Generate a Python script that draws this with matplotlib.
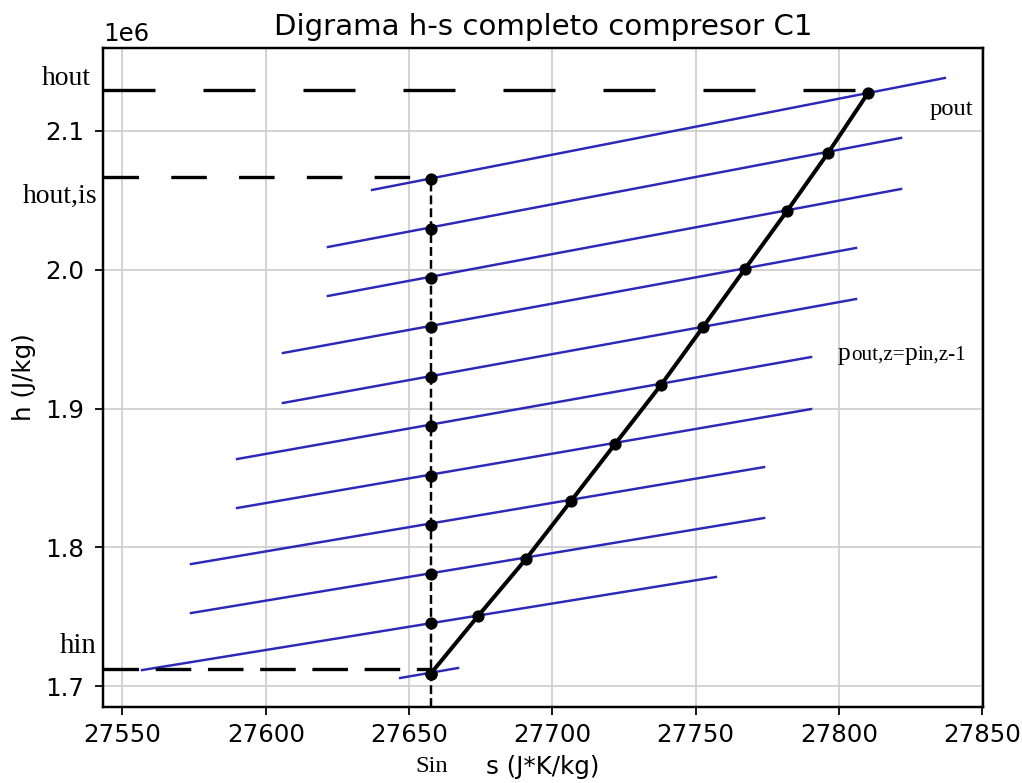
import matplotlib
matplotlib.use("Agg")
import matplotlib.pyplot as plt
import numpy as np

plt.rcParams['lines.scale_dashes'] = False
plt.rcParams['font.size'] = 11
plt.rcParams['grid.color'] = '#cfcfcf'
plt.rcParams['axes.linewidth'] = 1.1
plt.rcParams['ytick.major.pad'] = 5

# inlet entropy and isentropic stage end points (h in J/kg)
s_in = 27657.6
h_is = np.array([1.7090, 1.7454, 1.7807, 1.8160, 1.8514, 1.8874,
                 1.9227, 1.9587, 1.9941, 2.0294, 2.0654]) * 1e6

# real compression path, stage by stage
s_real = [27657.6, 27674.1, 27690.8, 27706.5, 27721.9, 27737.9,
          27752.6, 27767.2, 27781.9, 27796.2, 27810.2]
h_real = np.array([1.7090, 1.7505, 1.7915, 1.8333, 1.8744, 1.9169,
                   1.9587, 2.0005, 2.0423, 2.0841, 2.1274]) * 1e6

# isobars (start/end of each line), from inlet pressure up to p_out
iso_s0 = [27646.9, 27556.8, 27573.9, 27573.9, 27590.0, 27590.0,
          27606.0, 27606.0, 27621.7, 27621.7, 27637.1]
iso_s1 = [27667.1, 27757.1, 27773.9, 27773.9, 27790.3, 27790.3,
          27806.0, 27806.0, 27821.7, 27821.7, 27837.0]
iso_h0 = np.array([1.7058, 1.7115, 1.7526, 1.7879, 1.8283, 1.8636,
                   1.9040, 1.9400, 1.9811, 2.0164, 2.0575]) * 1e6
iso_h1 = np.array([1.7130, 1.7786, 1.8211, 1.8578, 1.8996, 1.9371,
                   1.9789, 2.0157, 2.0582, 2.0950, 2.1382]) * 1e6

# guide levels marked by hand on the diagram
h_out_guide = 2.1296e6
h_outis_guide = 2.0668e6
h_in_guide = 1.7122e6

xlim = (27543.2, 27850.3)
ylim = (1.6849e6, 2.1598e6)

W, H = 1022, 783
fig = plt.figure(figsize=(W / 160, H / 160), dpi=160)
ax = fig.add_axes([103 / W, 1 - 707 / H, (983 - 103) / W, (707 - 48) / H])

for i in range(len(iso_s0)):
    ax.plot([iso_s0[i], iso_s1[i]], [iso_h0[i], iso_h1[i]],
            color='#2c28b8', lw=1.1, zorder=2)

ax.plot(s_real, h_real, 'k-', lw=1.8, marker='o', ms=4.5, zorder=4)
ax.plot([s_in] * len(h_is), h_is, 'ko', ms=4.5, zorder=4)
ax.plot([s_in, s_in], [ylim[0], h_is[-1]], color='k', lw=1.1,
        dashes=(4.0, 1.8), zorder=3)

# horizontal guides
ax.plot([xlim[0], s_real[-1]], [h_out_guide, h_out_guide], color='k',
        lw=1.5, dashes=(23.4, 21.6), zorder=3)
ax.plot([xlim[0], s_in], [h_outis_guide, h_outis_guide], color='k',
        lw=1.5, dashes=(16, 14.5), zorder=3)
ax.plot([xlim[0], s_in], [h_in_guide, h_in_guide], color='k',
        lw=1.5, dashes=(16, 7.5), zorder=3)

ax.set_xlim(xlim)
ax.set_ylim(ylim)
ax.set_xticks([27550, 27600, 27650, 27700, 27750, 27800, 27850])
ax.grid(True)
ax.set_title('Digrama h-s completo compresor C1')
ax.set_xlabel('s (J*K/kg)')
ax.set_ylabel('h (J/kg)')

serif = ['Liberation Serif', 'DejaVu Serif']


def label(txt, x, y, size, ha='left'):
    return fig.text(x / W, 1 - y / H, txt, family=serif, fontsize=size,
                    ha=ha, va='baseline')


label('hout', 91, 85, 12.5, ha='right')
label('hout,is', 97, 203, 12.5, ha='right')
label('hin', 96, 653, 13, ha='right')
label('Sin', 415, 772, 11)
label('pout', 930, 115, 11)

# mixed-size label for the intermediate pressures
renderer = fig.canvas.get_renderer()
x = 838
for piece, size in [('p', 11.5), ('out,z=', 9.5), ('p', 11.5), ('in,z-1', 9.5)]:
    t = label(piece, x, 360, size)
    x += t.get_window_extent(renderer).width

fig.savefig('out.png', dpi=160)
